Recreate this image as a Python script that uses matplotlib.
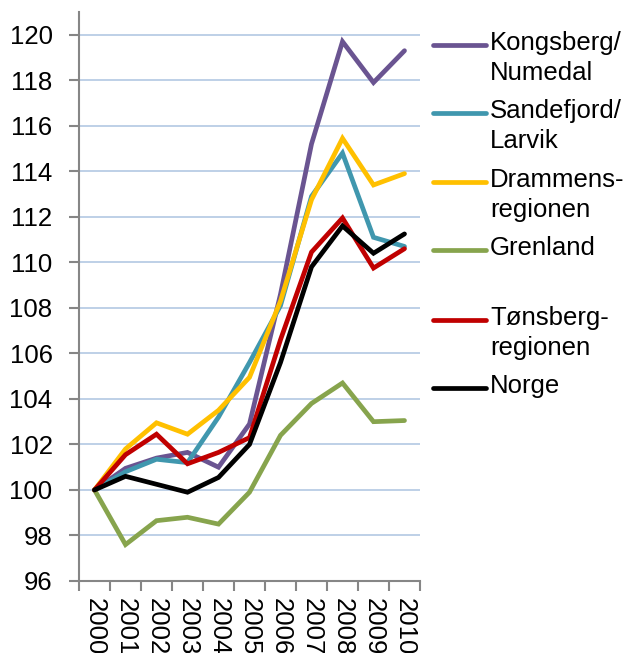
import matplotlib
matplotlib.use("Agg")
import matplotlib.pyplot as plt
from matplotlib.lines import Line2D

plt.rcParams['font.family'] = ['Liberation Sans', 'DejaVu Sans']

years = ['2000', '2001', '2002', '2003', '2004', '2005',
         '2006', '2007', '2008', '2009', '2010']

kongsberg = [100, 100.95, 101.4, 101.65, 101.0, 102.9, 108.6, 115.2, 119.7, 117.9, 119.3]
sandefjord = [100, 100.8, 101.35, 101.2, 103.2, 105.6, 108.1, 112.9, 114.8, 111.1, 110.7]
drammen = [100, 101.8, 102.95, 102.45, 103.5, 104.95, 108.3, 112.75, 115.45, 113.4, 113.9]
grenland = [100, 97.6, 98.65, 98.8, 98.5, 99.9, 102.4, 103.8, 104.7, 103.0, 103.05]
tonsberg = [100, 101.55, 102.45, 101.15, 101.65, 102.3, 106.6, 110.45, 111.95, 109.75, 110.6]
norge = [100, 100.6, 100.25, 99.9, 100.55, 102.0, 105.6, 109.8, 111.6, 110.4, 111.25]

series = [
    ('Kongsberg/\nNumedal', kongsberg, '#6A5491'),
    ('Sandefjord/\nLarvik', sandefjord, '#4097AE'),
    ('Drammens-\nregionen', drammen, '#FFC000'),
    ('Grenland', grenland, '#87A44D'),
    ('Tønsberg-\nregionen', tonsberg, '#C00000'),
    ('Norge', norge, '#000000'),
]

W, H = 627, 653
fs = 18.5
fig = plt.figure(figsize=(W / 100, H / 100), dpi=100)
ax = fig.add_axes([79 / W, 1 - 581 / H, (420 - 79) / W, (581 - 12) / H])

x = list(range(len(years)))
for label, vals, col in series:
    ax.plot(x, vals, color=col, lw=3.4, solid_capstyle='round', solid_joinstyle='miter')

ax.set_xlim(-0.5, len(years) - 0.5)
ax.set_ylim(96, 121)
ax.set_yticks(range(96, 121, 2))
ax.yaxis.grid(True, color='#B9CDE5', lw=1.3)
ax.set_axisbelow(True)

ax.set_xticks(x)
ax.set_xticklabels(years, rotation=270, va='top', ha='center')
ax.set_xticks([i - 0.5 for i in range(len(years) + 1)], minor=True)
ax.tick_params(axis='x', which='major', length=0, pad=12, labelsize=fs)
ax.tick_params(axis='x', which='minor', length=7, width=1.5, color='#868686')
ax.tick_params(axis='y', length=7, width=1.5, color='#868686', pad=12, labelsize=fs)

for s in ['top', 'right']:
    ax.spines[s].set_visible(False)
for s in ['left', 'bottom']:
    ax.spines[s].set_color('#868686')
    ax.spines[s].set_linewidth(1.5)

# legend drawn by hand so the line sits on the first text line
leg_y = [45, 113, 182, 250, 320, 388]
for (label, vals, col), yy in zip(series, leg_y):
    fig.add_artist(Line2D([433 / W, 486 / W], [1 - yy / H, 1 - yy / H],
                          color=col, lw=3.4, solid_capstyle='round'))
    fig.text(490 / W, 1 - (yy - 14) / H, label, fontsize=fs, va='top', ha='left',
             linespacing=1.3)

fig.savefig('out.png', dpi=100)
